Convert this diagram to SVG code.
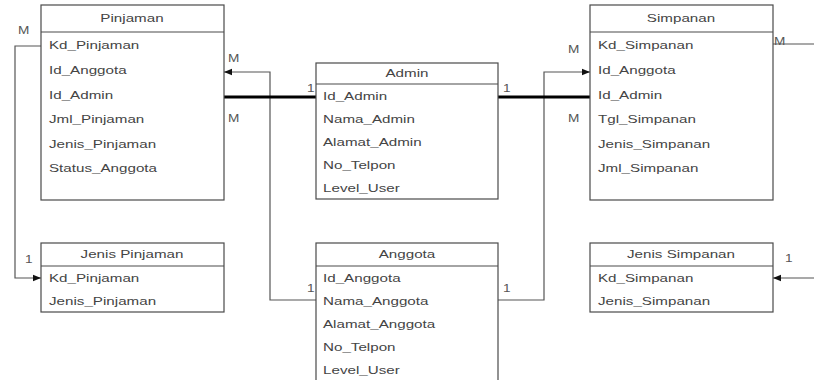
<svg xmlns="http://www.w3.org/2000/svg" width="814" height="380" viewBox="0 0 814 380">
  <style>
    .box { fill: #ffffff; stroke: #4a4a4a; stroke-width: 1.2; }
    .sep { stroke: #4a4a4a; stroke-width: 1.2; }
    text { font-family: "Liberation Sans", Arial, sans-serif; font-size: 11px; fill: #444444; }
    .title { text-anchor: middle; }
    .lbl { font-size: 10.5px; fill: #555555; }
    .conn { fill: none; stroke: #555555; stroke-width: 1.2; }
    .thick { fill: none; stroke: #000000; stroke-width: 3.2; }
  </style>
  <defs>
    <marker id="arrow" viewBox="0 0 10 10" refX="10" refY="5" markerWidth="8" markerHeight="8" markerUnits="userSpaceOnUse" orient="auto">
      <path d="M0,1 L10,5 L0,9 Z" fill="#111111"/>
    </marker>
  </defs>
  <rect width="814" height="380" fill="#ffffff"/>

  <!-- relationships -->
  <g id="connectors">
    <path class="conn" d="M41,46 H15 V278 H41" marker-end="url(#arrow)"/>
    <path class="conn" d="M316,300 H270 V72 H224" marker-end="url(#arrow)"/>
    <path class="conn" d="M498,300 H544 V72 H590" marker-end="url(#arrow)"/>
    <path class="conn" d="M773,44 H830 V278 H773" marker-end="url(#arrow)"/>
    <path class="thick" d="M224,97 H316"/>
    <path class="thick" d="M498,97 H590"/>
    <text class="lbl" transform="matrix(1.3 0 0 1 18 0)" y="34">M</text>
    <text class="lbl" transform="matrix(1.3 0 0 1 228 0)" y="62">M</text>
    <text class="lbl" transform="matrix(1.3 0 0 1 228 0)" y="122">M</text>
    <text class="lbl" transform="matrix(1.3 0 0 1 307 0)" y="92">1</text>
    <text class="lbl" transform="matrix(1.3 0 0 1 503 0)" y="92">1</text>
    <text class="lbl" transform="matrix(1.3 0 0 1 568 0)" y="53">M</text>
    <text class="lbl" transform="matrix(1.3 0 0 1 568 0)" y="122">M</text>
    <text class="lbl" transform="matrix(1.3 0 0 1 774 0)" y="45">M</text>
    <text class="lbl" transform="matrix(1.3 0 0 1 25 0)" y="263">1</text>
    <text class="lbl" transform="matrix(1.3 0 0 1 307 0)" y="292">1</text>
    <text class="lbl" transform="matrix(1.3 0 0 1 503 0)" y="292">1</text>
    <text class="lbl" transform="matrix(1.3 0 0 1 785 0)" y="262">1</text>
  </g>

  <g id="pinjaman">
    <rect class="box" x="41" y="5" width="183" height="195"/>
    <line class="sep" x1="41" y1="32" x2="224" y2="32"/>
    <text class="title" transform="matrix(1.38 0 0 1 132 0)" y="22">Pinjaman</text>
    <text transform="matrix(1.38 0 0 1 49 0)" y="49">Kd_Pinjaman</text>
    <text transform="matrix(1.38 0 0 1 49 0)" y="74">Id_Anggota</text>
    <text transform="matrix(1.38 0 0 1 49 0)" y="99">Id_Admin</text>
    <text transform="matrix(1.38 0 0 1 49 0)" y="123">Jml_Pinjaman</text>
    <text transform="matrix(1.38 0 0 1 49 0)" y="148">Jenis_Pinjaman</text>
    <text transform="matrix(1.38 0 0 1 49 0)" y="172">Status_Anggota</text>
  </g>

  <g id="admin">
    <rect class="box" x="316" y="63" width="182" height="136"/>
    <line class="sep" x1="316" y1="84" x2="498" y2="84"/>
    <text class="title" transform="matrix(1.38 0 0 1 407 0)" y="77">Admin</text>
    <text transform="matrix(1.38 0 0 1 323 0)" y="100">Id_Admin</text>
    <text transform="matrix(1.38 0 0 1 323 0)" y="123">Nama_Admin</text>
    <text transform="matrix(1.38 0 0 1 323 0)" y="146">Alamat_Admin</text>
    <text transform="matrix(1.38 0 0 1 323 0)" y="169">No_Telpon</text>
    <text transform="matrix(1.38 0 0 1 323 0)" y="192">Level_User</text>
  </g>

  <g id="simpanan">
    <rect class="box" x="590" y="5" width="183" height="195"/>
    <line class="sep" x1="590" y1="32" x2="773" y2="32"/>
    <text class="title" transform="matrix(1.38 0 0 1 681 0)" y="22">Simpanan</text>
    <text transform="matrix(1.38 0 0 1 598 0)" y="49">Kd_Simpanan</text>
    <text transform="matrix(1.38 0 0 1 598 0)" y="74">Id_Anggota</text>
    <text transform="matrix(1.38 0 0 1 598 0)" y="99">Id_Admin</text>
    <text transform="matrix(1.38 0 0 1 598 0)" y="123">Tgl_Simpanan</text>
    <text transform="matrix(1.38 0 0 1 598 0)" y="148">Jenis_Simpanan</text>
    <text transform="matrix(1.38 0 0 1 598 0)" y="172">Jml_Simpanan</text>
  </g>

  <g id="jenis-pinjaman">
    <rect class="box" x="41" y="243" width="183" height="69"/>
    <line class="sep" x1="41" y1="266" x2="224" y2="266"/>
    <text class="title" transform="matrix(1.38 0 0 1 132 0)" y="258">Jenis Pinjaman</text>
    <text transform="matrix(1.38 0 0 1 49 0)" y="282">Kd_Pinjaman</text>
    <text transform="matrix(1.38 0 0 1 49 0)" y="305">Jenis_Pinjaman</text>
  </g>

  <g id="anggota">
    <rect class="box" x="316" y="243" width="182" height="145"/>
    <line class="sep" x1="316" y1="266" x2="498" y2="266"/>
    <text class="title" transform="matrix(1.38 0 0 1 407 0)" y="258">Anggota</text>
    <text transform="matrix(1.38 0 0 1 323 0)" y="282">Id_Anggota</text>
    <text transform="matrix(1.38 0 0 1 323 0)" y="305">Nama_Anggota</text>
    <text transform="matrix(1.38 0 0 1 323 0)" y="328">Alamat_Anggota</text>
    <text transform="matrix(1.38 0 0 1 323 0)" y="351">No_Telpon</text>
    <text transform="matrix(1.38 0 0 1 323 0)" y="374">Level_User</text>
  </g>

  <g id="jenis-simpanan">
    <rect class="box" x="590" y="243" width="183" height="69"/>
    <line class="sep" x1="590" y1="266" x2="773" y2="266"/>
    <text class="title" transform="matrix(1.38 0 0 1 681 0)" y="258">Jenis Simpanan</text>
    <text transform="matrix(1.38 0 0 1 598 0)" y="282">Kd_Simpanan</text>
    <text transform="matrix(1.38 0 0 1 598 0)" y="305">Jenis_Simpanan</text>
  </g>
</svg>
